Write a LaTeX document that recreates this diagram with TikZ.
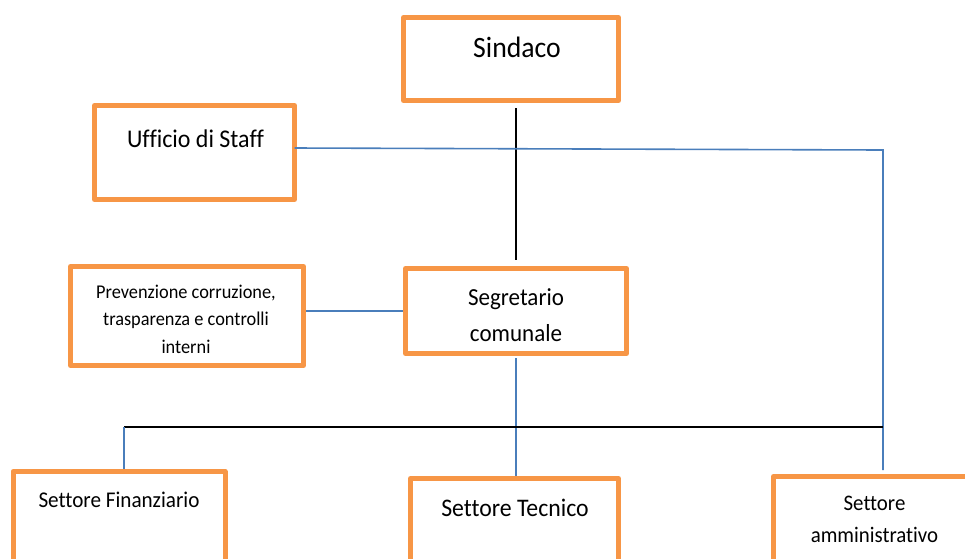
\documentclass[tikz,border=0pt]{standalone}
\usepackage{fontspec}
\setmainfont{Carlito}[FakeStretch=0.94,Ligatures=NoCommon]
\definecolor{boxorange}{HTML}{F79646}
\definecolor{lineblue}{HTML}{4A7EBB}
\tikzset{
  orgbox/.style={draw=boxorange, line width=5pt, line join=round, fill=white, inner sep=0pt, outer sep=0pt},
  lbl/.style={anchor=base, inner sep=0pt, align=center, text=black},
  blueline/.style={draw=lineblue, line width=1.6pt},
  blackline/.style={draw=black, line width=1.8pt}
}
\begin{document}
\begin{tikzpicture}[x=1pt,y=-1pt]
\useasboundingbox (0,0) rectangle (965,558);
\clip (0,0) rectangle (965,558);
\fill[white] (0,0) rectangle (965,558);
% boxes
\node[orgbox, minimum width=215pt, minimum height=83pt] (sindaco) at (511,59) {};
\node[orgbox, minimum width=200pt, minimum height=94pt] (ufficio) at (194.5,152.5) {};
\node[orgbox, minimum width=233pt, minimum height=99pt] (prev) at (187,316) {};
\node[orgbox, minimum width=221pt, minimum height=85pt] (segr) at (516,311) {};
\node[orgbox, minimum width=212pt, minimum height=128.5pt] (finanz) at (119,535.75) {};
\node[orgbox, minimum width=208pt, minimum height=121.5pt] (tecnico) at (514.5,539.25) {};
\node[orgbox, minimum width=225.5pt, minimum height=123.5pt] (amm) at (886.25,538.25) {};
% texts (base anchor = baseline of last line)
\node[lbl, font=\fontsize{29.5}{35}\selectfont] (sindacoT) at (517,57) {Sindaco};
\node[lbl, font=\fontsize{25.5}{30}\selectfont] (ufficioT) at (195.5,147) {Ufficio di Staff};
\node[lbl, font=\fontsize{19.5}{27.5}\selectfont] (prevT) at (186,353) {Prevenzione corruzione,\\trasparenza e controlli\\interni};
\node[lbl, font=\fontsize{24.5}{36}\selectfont] (segrT) at (516,341) {Segretario\\comunale};
\node[lbl, font=\fontsize{22.5}{26}\selectfont] (finanzT) at (119,507.5) {Settore Finanziario};
\node[lbl, font=\fontsize{25.3}{29}\selectfont] (tecnicoT) at (515,516) {Settore Tecnico};
\node[lbl, font=\fontsize{22.2}{32}\selectfont] (ammT) at (874.5,542) {Settore\\amministrativo};
% helper coordinates
\coordinate (c1) at (883,150);
\coordinate (c2) at (883,470);
\coordinate (busL) at (124,427);
\coordinate (busR) at (883,427);
% connectors
\draw[blackline, shorten <=7.5pt, shorten >=8.5pt] (segr.north |- sindaco.south) -- (segr.north);
\draw[blueline] ([yshift=4.5pt]ufficio.east) -- (c1) -- (c2);
\draw[blueline, shorten <=2.5pt, shorten >=2.5pt] (prev.east |- segr.west) -- (segr.west);
\draw[blueline, shorten <=4.5pt, shorten >=2.5pt] (segr.south) -- (segr.south |- tecnico.north);
\draw[blackline] (busL) -- (busR);
\draw[blueline, shorten >=3pt] (busL) -- (busL |- finanz.north);
\end{tikzpicture}
\end{document}
